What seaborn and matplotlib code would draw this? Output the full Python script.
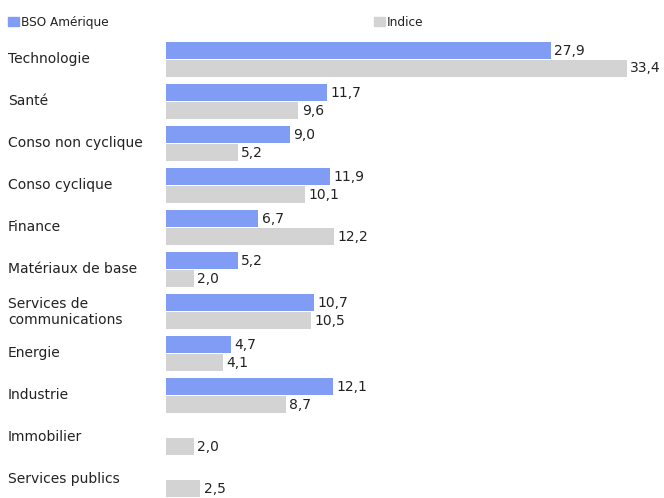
import pandas as pd
import matplotlib.pyplot as plt
import matplotlib.transforms as mtransforms
import seaborn as sns
from matplotlib.patches import Patch

secteurs = ['Technologie', 'Santé', 'Conso non cyclique', 'Conso cyclique', 'Finance',
            'Matériaux de base', 'Services de\ncommunications', 'Energie', 'Industrie',
            'Immobilier', 'Services publics']
bso = [27.9, 11.7, 9.0, 11.9, 6.7, 5.2, 10.7, 4.7, 12.1, None, None]
indice = [33.4, 9.6, 5.2, 10.1, 12.2, 2.0, 10.5, 4.1, 8.7, 2.0, 2.5]
series = ['BSO Amérique', 'Indice']
couleurs = ['#809cf5', '#d3d3d3']

df = pd.DataFrame({'Secteur': secteurs * 2,
                   'Poids': bso + indice,
                   'Serie': [series[0]] * len(secteurs) + [series[1]] * len(secteurs)})
df = df.dropna()

sns.set_style('white')
plt.rcParams['font.family'] = ['DejaVu Sans']

W, H = 664, 498
fig = plt.figure(figsize=(W / 100, H / 100), dpi=100)
ax = fig.add_axes([166 / W, 0, 1 - 166 / W, (H - 38.5) / H])

sns.barplot(data=df, y='Secteur', x='Poids', hue='Serie', order=secteurs,
            hue_order=series, palette=couleurs, orient='h', width=0.857, gap=0.055,
            saturation=1, linewidth=0, legend=False, ax=ax)

for c in ax.containers:
    ax.bar_label(c, fmt=lambda v: f'{v:.1f}'.replace('.', ','), padding=2.4,
                 fontsize=10, color='#222222')

ax.set_xlim(0, 36.1)
ax.set_ylim(10.44, -0.5)
ax.set_xlabel('')
ax.set_ylabel('')
ax.set_xticks([])
for s in ax.spines.values():
    s.set_visible(False)
ax.set_yticks(range(len(secteurs)))
ax.set_yticklabels(secteurs, fontsize=10, color='#222222', ha='left')
ax.tick_params(axis='y', length=0, pad=158 * 0.72)
decal = mtransforms.ScaledTranslation(0, 0.025, fig.dpi_scale_trans)
for lab in ax.get_yticklabels():
    lab.set_transform(lab.get_transform() + decal)

for serie, coul, x0 in zip(series, couleurs, [8, 374]):
    fig.legend(handles=[Patch(color=coul, label=serie)], loc='center left',
               bbox_to_anchor=(x0 / W, 1 - 22.5 / H), frameon=False, fontsize=8.7,
               handlelength=0.9, handleheight=0.75, handletextpad=0.15,
               borderaxespad=0, borderpad=0, labelcolor='#222222')

fig.savefig('out.png', dpi=100)
